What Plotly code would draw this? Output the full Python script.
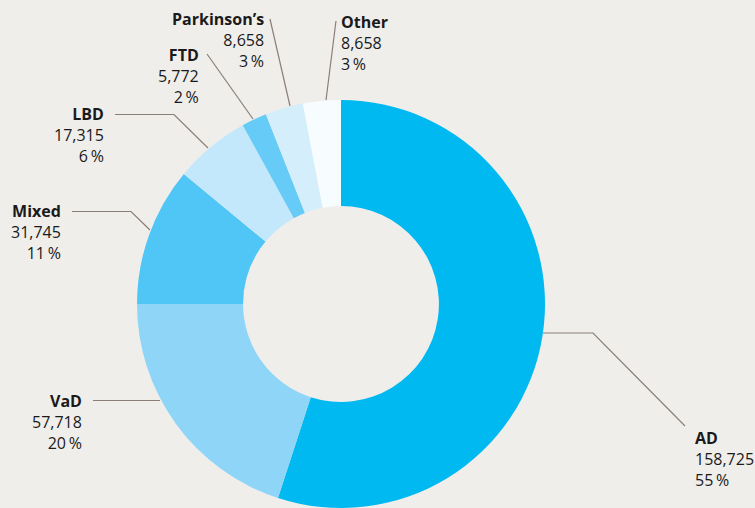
import plotly.graph_objects as go

# ---- data ----
categories = ["AD", "VaD", "Mixed", "LBD", "FTD", "Parkinson\u2019s", "Other"]
counts = [158725, 57718, 31745, 17315, 5772, 8658, 8658]
percent_labels = ["55", "20", "11", "6", "2", "3", "3"]

# ---- style ----
colors = ["#00b9f1", "#8ed5f8", "#4fc6f5", "#c4e8fb", "#66cbf6", "#d5eefb", "#f7fcff"]
BG = "#f0eeeb"
LINE = "#8a7e78"
TEXT = "#1a1a1a"
W, H = 755, 508

# label layout (pixel positions, anchor, alignment) and leader-line paths
label_layout = {
    "AD": dict(x=693, y=459, xanchor="left", align="left"),
    "VaD": dict(x=84, y=422, xanchor="right", align="right"),
    "Mixed": dict(x=63, y=232, xanchor="right", align="right"),
    "LBD": dict(x=106, y=135, xanchor="right", align="right"),
    "FTD": dict(x=201, y=76, xanchor="right", align="right"),
    "Parkinson\u2019s": dict(x=266, y=40, xanchor="right", align="right"),
    "Other": dict(x=339, y=43, xanchor="left", align="left"),
}
leader_paths = {
    "AD": [(543, 333), (593, 333), (685, 426)],
    "VaD": [(93, 400.5), (160, 400.5)],
    "Mixed": [(72, 211.5), (131, 211.5), (150, 230)],
    "LBD": [(115, 114.5), (174, 114.5), (208, 148)],
    "FTD": [(207, 54), (253, 119)],
    "Parkinson\u2019s": [(270, 19), (290, 106)],
    "Other": [(336, 21), (326, 100)],
}


def px(x):
    return x / W


def py(y):
    return 1 - y / H


fig = go.Figure(
    go.Pie(
        labels=categories,
        values=counts,
        hole=0.48,
        sort=False,
        direction="clockwise",
        rotation=0,
        textinfo="none",
        marker=dict(colors=colors, line=dict(width=0)),
        domain=dict(x=[(341 - 204) / W, (341 + 204) / W], y=[0, 408 / H]),
        showlegend=False,
        hoverinfo="label+value",
    )
)

annotations = []
for cat, val, pct in zip(categories, counts, percent_labels):
    lay = label_layout[cat]
    annotations.append(
        dict(
            x=px(lay["x"]),
            y=py(lay["y"]),
            xref="paper",
            yref="paper",
            xanchor=lay["xanchor"],
            yanchor="middle",
            align=lay["align"],
            showarrow=False,
            text=f"<b>{cat}</b><br>{val:,}<br>{pct}\u2009%",
            font=dict(family="Open Sans", size=16, color=TEXT),
        )
    )

shapes = []
for cat in categories:
    pts = leader_paths[cat]
    path = "M " + " L ".join(f"{px(x)},{py(y)}" for x, y in pts)
    shapes.append(
        dict(type="path", path=path, xref="paper", yref="paper",
             line=dict(color=LINE, width=1.2))
    )

fig.update_layout(
    width=W,
    height=H,
    margin=dict(l=0, r=0, t=0, b=0),
    paper_bgcolor=BG,
    plot_bgcolor=BG,
    annotations=annotations,
    shapes=shapes,
)

fig.write_html("out.html", config={"displayModeBar": False})

# remove the default page margin so the figure fills the window exactly
with open("out.html", encoding="utf-8") as f:
    html = f.read()
html = html.replace("<head>", "<head><style>html,body{margin:0;padding:0;overflow:hidden;}</style>", 1)
with open("out.html", "w", encoding="utf-8") as f:
    f.write(html)
